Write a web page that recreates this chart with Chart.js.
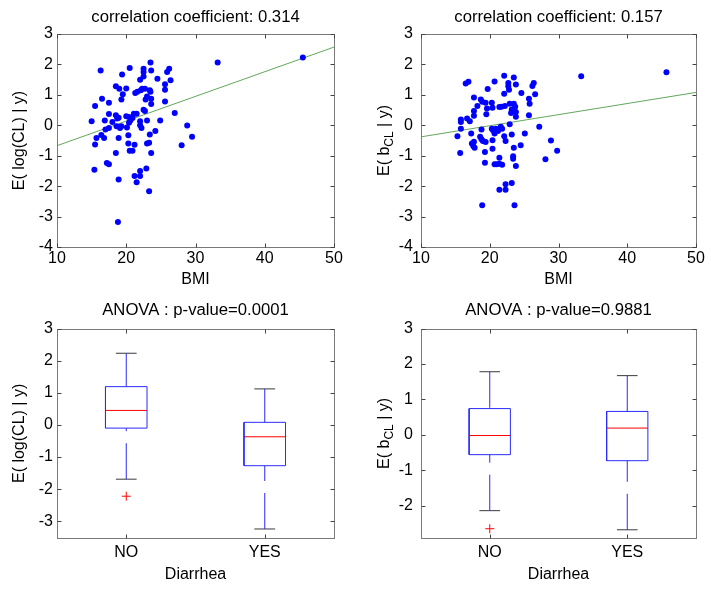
<!DOCTYPE html>
<html>
<head>
<meta charset="utf-8">
<script src="https://cdn.jsdelivr.net/npm/chart.js@4.4.0/dist/chart.umd.min.js"></script>
<style>
html,body{margin:0;padding:0;background:#fff;}
#wrap{position:relative;width:711px;height:590px;background:#fff;}
.cell{position:absolute;}
canvas{display:block;}
</style>
</head>
<body>
<div id="wrap">
  <div class="cell" style="left:0;top:0;"><canvas id="c1" width="355" height="295"></canvas></div>
  <div class="cell" style="left:355px;top:0;"><canvas id="c2" width="356" height="295"></canvas></div>
  <div class="cell" style="left:0;top:295px;"><canvas id="c3" width="355" height="295"></canvas></div>
  <div class="cell" style="left:355px;top:295px;"><canvas id="c4" width="356" height="295"></canvas></div>
</div>
<script>
// ---------------- DATA ----------------
// Top-left: BMI vs E(log(CL)|y)
const bmiA = [15.0,15.4,15.5,15.5,15.7,16.3,16.4,16.5,16.8,16.9,17.0,17.2,17.5,17.5,17.5,17.5,18.0,18.5,18.5,18.5,18.6,18.7,18.8,18.9,18.9,18.9,19.0,19.1,19.3,19.3,19.4,19.5,20.0,20.0,20.1,20.3,20.3,20.4,20.4,20.5,20.5,20.6,20.9,20.9,21.1,21.2,21.2,21.3,21.5,21.5,21.6,22.0,22.0,22.0,22.0,22.0,22.1,22.2,22.3,22.5,22.5,22.5,22.5,22.7,22.7,22.8,22.9,23.0,23.0,23.0,23.3,23.3,23.4,23.4,23.5,23.5,23.6,23.6,23.6,23.6,24.2,24.5,24.9,25.6,25.6,25.6,25.9,26.2,26.4,27.0,28.8,28.0,29.5,33.2,45.5];
const logCL = [0.13,-1.46,0.63,-0.63,-0.42,1.80,-0.32,0.87,-0.42,0.16,-0.14,-1.24,0.74,0.37,-0.09,-1.28,0.11,1.28,0.33,-0.91,-0.03,0.22,-3.18,0.25,-0.42,-1.78,1.20,-0.09,0.85,-0.03,1.67,1.02,1.21,0.30,-0.07,-0.33,-0.60,0.27,0.08,1.88,-0.84,0.16,-0.84,0.24,0.38,-0.64,-1.67,1.06,0.38,-1.87,1.10,1.50,0.13,0.00,-1.50,-1.67,1.15,-0.09,1.20,1.86,1.75,1.60,0.51,0.47,1.20,0.85,-1.42,0.95,0.16,-0.60,-0.57,-2.17,-0.30,1.15,2.06,1.10,0.87,0.70,1.80,-0.91,-0.19,1.53,0.16,1.17,1.35,0.78,1.75,1.86,1.48,0.40,-0.01,-0.66,-0.38,2.06,2.23];
// Top-right: BMI vs E(b_CL|y)
const bmiB = [15.3,15.7,15.8,15.8,15.8,16.5,16.9,16.7,17.1,17.3,17.4,17.6,17.7,17.7,17.7,17.7,17.8,18.2,18.6,18.7,18.8,18.8,18.9,18.9,19.0,19.3,19.3,19.4,19.4,19.5,19.6,19.7,20.3,20.3,20.4,20.4,20.4,20.5,20.7,20.7,20.7,20.9,21.0,21.2,21.4,21.4,21.4,21.4,21.6,21.7,21.8,21.8,22.1,22.1,22.1,22.2,22.3,22.3,22.3,22.7,22.7,22.8,22.9,22.9,23.1,23.2,23.2,23.2,23.4,23.4,23.5,23.6,23.5,23.5,23.7,23.8,23.8,23.8,23.8,24.5,24.6,25.1,25.7,25.7,25.8,26.2,26.4,26.6,27.2,28.1,28.9,29.8,33.3,45.7];
const bCL = [-0.36,-0.91,0.19,0.11,-0.11,1.37,1.43,0.22,0.13,-0.27,-0.60,-0.68,0.91,0.47,0.31,-0.54,-0.74,0.63,-0.38,0.85,-0.14,-0.46,-2.63,0.77,-0.52,-0.88,-1.23,0.74,-0.55,0.36,0.55,1.19,0.74,-0.11,0.58,-0.49,-0.77,-0.17,1.44,-0.27,-1.28,-0.11,-1.28,-0.19,0.60,-1.26,-1.07,-2.12,-0.05,0.61,-1.30,-0.11,1.63,1.04,-0.36,0.63,-0.52,-1.94,-2.12,1.39,1.28,1.17,0.03,0.71,0.40,0.52,-0.30,-1.90,-1.02,-1.10,1.57,-2.63,-0.74,0.71,0.61,-1.34,0.44,0.28,1.34,-0.66,1.06,-0.27,0.33,0.87,0.71,1.29,1.39,1.02,-0.05,-1.12,-0.50,-0.84,1.61,1.74];
// Regression lines (endpoints at x axis limits)
const fitX = [10, 50];
const fitA = [-0.67, 2.57];
const fitB = [-0.38, 1.08];
// Box plots
const groups = ['NO', 'YES'];
const groupPos = [1, 2];
const clLow = [-1.69, -3.24];
const clQ1  = [-0.10, -1.27];
const clMed = [0.45, -0.37];
const clQ3  = [1.19, 0.08];
const clHigh= [2.23, 1.12];
const clOut = [[-2.22], []];
const bLow  = [-2.14, -2.68];
const bQ1   = [-0.56, -0.73];
const bMed  = [-0.02, 0.19];
const bQ3   = [0.74, 0.66];
const bHigh = [1.78, 1.67];
const bOut  = [[-2.65], []];
// Axis ticks / limits
const scatterXTicks = [10, 20, 30, 40, 50];
const scatterYTicks = [-4, -3, -2, -1, 0, 1, 2, 3];
const boxYTicksA = [-3, -2, -1, 0, 1, 2, 3];
const boxYTicksB = [-2, -1, 0, 1, 2, 3];
const boxYLimA = [-3.53, 3];
const boxYLimB = [-2.92, 3];
const titles = ['correlation coefficient: 0.314', 'correlation coefficient: 0.157', 'ANOVA : p-value=0.0001', 'ANOVA : p-value=0.9881'];

// ---------------- STYLE ----------------
const FONT = 'Liberation Sans, Arial, Helvetica, sans-serif';
Chart.defaults.font.family = FONT;
Chart.defaults.font.size = 16;
Chart.defaults.color = '#000';

const framePlugin = {
  id: 'frame',
  afterDraw(chart) {
    const {ctx, chartArea} = chart;
    const xs = chart.scales.x, ys = chart.scales.y;
    const L = Math.round(chartArea.left) + 0.5, R = Math.round(chartArea.right) + 0.5;
    const T = Math.round(chartArea.top) + 0.5, B = Math.round(chartArea.bottom) + 0.5;
    ctx.save();
    ctx.strokeStyle = '#7a7a7a';
    ctx.lineWidth = 1;
    ctx.strokeRect(L, T, R - L, B - T);
    ctx.strokeStyle = '#444';
    const len = 4;
    ctx.beginPath();
    xs.ticks.forEach(t => {
      const p = Math.round(xs.getPixelForValue(t.value)) + 0.5;
      ctx.moveTo(p, B); ctx.lineTo(p, B - len);
      ctx.moveTo(p, T); ctx.lineTo(p, T + len);
    });
    ys.ticks.forEach(t => {
      const p = Math.round(ys.getPixelForValue(t.value)) + 0.5;
      ctx.moveTo(L, p); ctx.lineTo(L + len, p);
      ctx.moveTo(R, p); ctx.lineTo(R - len, p);
    });
    ctx.stroke();
    ctx.restore();
  }
};

const subTitlePlugin = {
  id: 'subTitle',
  afterDraw(chart, args, opts) {
    if (!opts || !opts.parts) return;
    const {ctx, chartArea} = chart;
    const [a, s, b] = opts.parts;
    ctx.save();
    ctx.fillStyle = '#000';
    ctx.font = '16px ' + FONT;
    const w1 = ctx.measureText(a).width;
    const w3 = ctx.measureText(b).width;
    ctx.font = '12px ' + FONT;
    const w2 = ctx.measureText(s).width;
    const total = w1 + w2 + w3;
    const cy = (chartArea.top + chartArea.bottom) / 2;
    ctx.translate(opts.x, cy);
    ctx.rotate(-Math.PI / 2);
    ctx.textBaseline = 'alphabetic';
    ctx.textAlign = 'left';
    const base = 5.6;
    let x0 = -total / 2;
    ctx.font = '16px ' + FONT;
    ctx.fillText(a, x0, base);
    ctx.font = '12px ' + FONT;
    ctx.fillText(s, x0 + w1, base + 4);
    ctx.font = '16px ' + FONT;
    ctx.fillText(b, x0 + w1 + w2, base);
    ctx.restore();
  }
};

function makeOptions(cfg) {
  return {
    responsive: false,
    animation: false,
    events: [],
    layout: {padding: {left: 0, right: cfg.padRight, top: 0, bottom: 0}},
    plugins: {
      legend: {display: false},
      tooltip: {enabled: false},
      title: {
        display: true, text: cfg.title, fullSize: false,
        font: {size: 16.7, weight: 'normal', family: FONT}, color: '#000',
        padding: {top: cfg.titleTop, bottom: cfg.titleBottom}
      },
      subTitle: cfg.sub || {}
    },
    scales: {
      x: {
        type: 'linear', position: 'bottom', min: cfg.xMin, max: cfg.xMax,
        grid: {display: false, drawTicks: false}, border: {display: false},
        afterBuildTicks: s => { s.ticks = cfg.xTicks.map(v => ({value: v})); },
        afterFit: s => { s.height = cfg.xAxisH; },
        ticks: {
          padding: cfg.xTickPad, maxRotation: 0, autoSkip: false, color: '#000',
          font: {size: 16, family: FONT},
          callback: cfg.xLabel || (v => String(v))
        },
        title: {display: true, text: cfg.xTitle, color: '#000', font: {size: 16, family: FONT},
                padding: {top: 0, bottom: cfg.xTitlePad}}
      },
      y: {
        type: 'linear', position: 'left', min: cfg.yMin, max: cfg.yMax,
        grid: {display: false, drawTicks: false}, border: {display: false},
        afterBuildTicks: s => { s.ticks = cfg.yTicks.map(v => ({value: v})); },
        afterFit: s => { s.width = cfg.yAxisW; },
        ticks: {padding: cfg.yTickPad, autoSkip: false, color: '#000', font: {size: 16, family: FONT},
                callback: v => String(v)},
        title: {display: !!cfg.yTitle, text: cfg.yTitle || '', color: '#000', font: {size: 16, family: FONT},
                padding: {top: cfg.yTitlePad, bottom: 0}}
      }
    }
  };
}

function scatterDatasets(xs, ys, fit) {
  return [
    {
      data: xs.map((v, i) => ({x: v, y: ys[i]})),
      pointRadius: 3, pointBackgroundColor: '#0000ff', pointBorderWidth: 0, showLine: false
    },
    {
      data: fitX.map((v, i) => ({x: v, y: fit[i]})),
      showLine: true, pointRadius: 0, borderColor: '#62a85c', borderWidth: 1, fill: false, tension: 0
    }
  ];
}

function boxDatasets(lo, q1, med, q3, hi, outs) {
  const ds = [];
  const hw = 0.15, cw = 0.075;
  const line = (pts, color, dash) => ({
    data: pts, showLine: true, pointRadius: 0, borderColor: color, borderWidth: 1,
    borderDash: dash || [], fill: false, tension: 0
  });
  groupPos.forEach((x, i) => {
    ds.push(line([{x: x, y: hi[i]}, {x: x, y: q3[i]}], '#2a2aff', [36, 12]));
    ds.push(line([{x: x, y: lo[i]}, {x: x, y: q1[i]}], '#2a2aff', [36, 12]));
    ds.push(line([{x: x - cw, y: hi[i]}, {x: x + cw, y: hi[i]}], '#3a3a3a'));
    ds.push(line([{x: x - cw, y: lo[i]}, {x: x + cw, y: lo[i]}], '#3a3a3a'));
    ds.push(line([{x: x - hw, y: q1[i]}, {x: x + hw, y: q1[i]}, {x: x + hw, y: q3[i]},
                  {x: x - hw, y: q3[i]}, {x: x - hw, y: q1[i]}], '#2a2aff'));
    ds.push(line([{x: x - hw, y: med[i]}, {x: x + hw, y: med[i]}], '#ff0000'));
    if (outs[i].length) {
      ds.push({
        data: outs[i].map(v => ({x: x, y: v})), showLine: false,
        pointStyle: 'cross', pointRadius: 4.5, pointBorderColor: '#ff0000', pointBorderWidth: 1,
        pointBackgroundColor: '#ff0000'
      });
    }
  });
  return ds;
}

const topCommon = {xMin: 10, xMax: 50, xTicks: scatterXTicks, yMin: -4, yMax: 3, yTicks: scatterYTicks,
  titleTop: 7.8, titleBottom: 6.16, xAxisH: 48, xTickPad: 1.5, xTitle: 'BMI', xTitlePad: 5.4};
const botCommon = {xMin: 0.5, xMax: 2.5, xTicks: groupPos,
  xLabel: v => groups[groupPos.indexOf(v)] || '',
  titleTop: 5.7, titleBottom: 7.76, xAxisH: 51.7, xTickPad: 4.6, xTitle: 'Diarrhea', xTitlePad: 6.1};

new Chart(document.getElementById('c1'), {
  type: 'scatter', plugins: [framePlugin, subTitlePlugin],
  data: {datasets: scatterDatasets(bmiA, logCL, fitA)},
  options: makeOptions(Object.assign({}, topCommon, {title: titles[0], padRight: 21, yAxisW: 57, yTickPad: 4,
    yTitle: 'E( log(CL) | y)', yTitlePad: 10.4}))
});
new Chart(document.getElementById('c2'), {
  type: 'scatter', plugins: [framePlugin, subTitlePlugin],
  data: {datasets: scatterDatasets(bmiB, bCL, fitB)},
  options: makeOptions(Object.assign({}, topCommon, {title: titles[1], padRight: 15, yAxisW: 66, yTickPad: 8,
    sub: {parts: ['E( b', 'CL', ' | y)'], x: 28}}))
});
new Chart(document.getElementById('c3'), {
  type: 'scatter', plugins: [framePlugin, subTitlePlugin],
  data: {datasets: boxDatasets(clLow, clQ1, clMed, clQ3, clHigh, clOut)},
  options: makeOptions(Object.assign({}, botCommon, {title: titles[2], padRight: 21, yAxisW: 57, yTickPad: 4,
    yMin: boxYLimA[0], yMax: boxYLimA[1], yTicks: boxYTicksA, yTitle: 'E( log(CL) | y)', yTitlePad: 10.4}))
});
new Chart(document.getElementById('c4'), {
  type: 'scatter', plugins: [framePlugin, subTitlePlugin],
  data: {datasets: boxDatasets(bLow, bQ1, bMed, bQ3, bHigh, bOut)},
  options: makeOptions(Object.assign({}, botCommon, {title: titles[3], padRight: 15, yAxisW: 66, yTickPad: 8,
    yMin: boxYLimB[0], yMax: boxYLimB[1], yTicks: boxYTicksB, sub: {parts: ['E( b', 'CL', ' | y)'], x: 28}}))
});
</script>
</body>
</html>
